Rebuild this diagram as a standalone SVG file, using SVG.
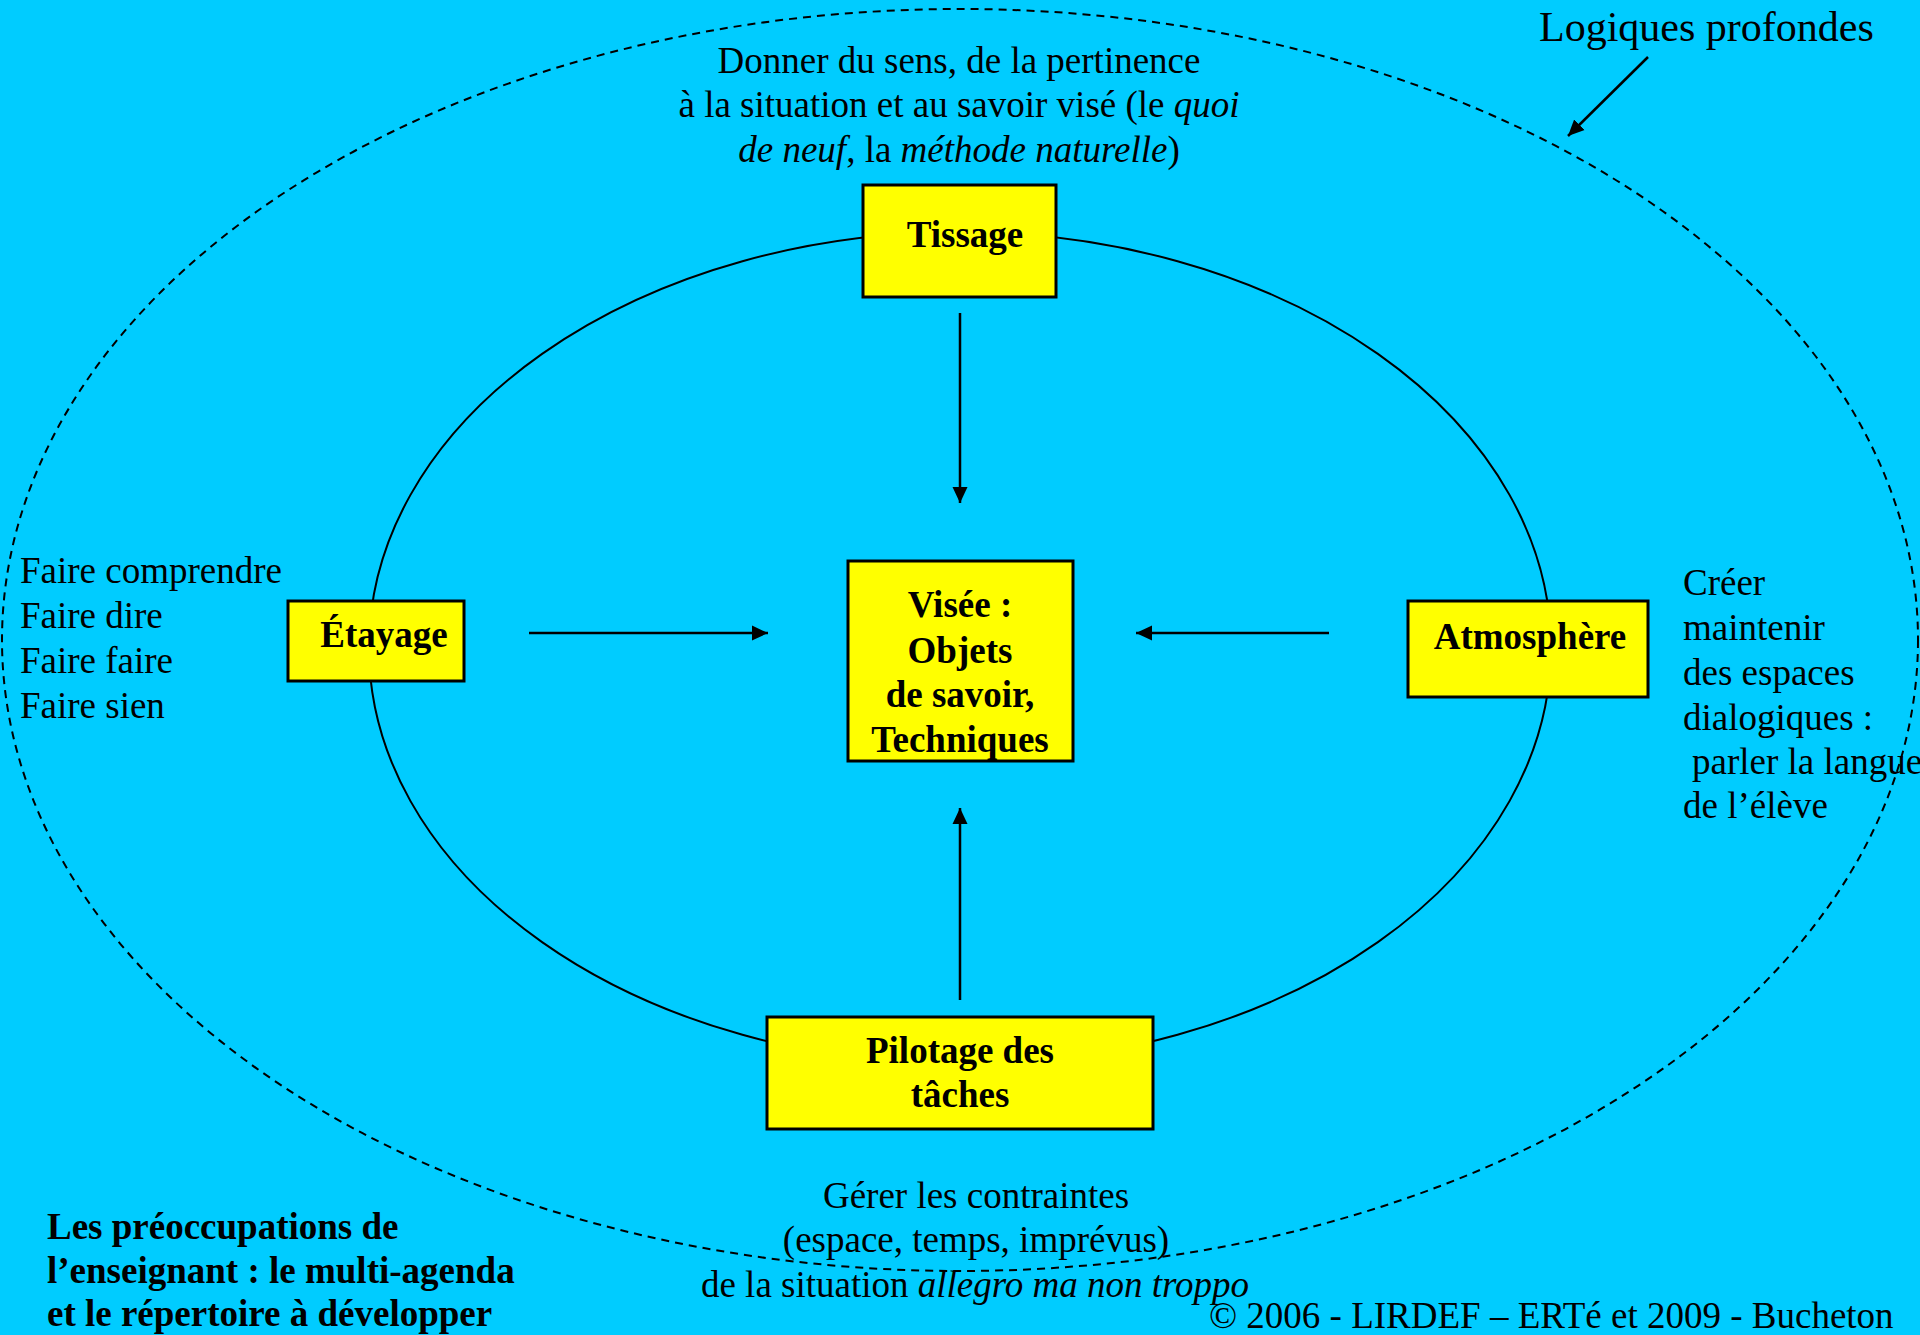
<svg xmlns="http://www.w3.org/2000/svg" width="1920" height="1335" viewBox="0 0 1920 1335">
<style>
  .t { font-family: "Liberation Serif", "Times New Roman", serif; font-size: 37px; fill: #000; }
  .b { font-weight: bold; }
  .m { text-anchor: middle; }
  .box { fill: #FFFF00; stroke: #000; stroke-width: 3; }
  .conn { stroke: #000; stroke-width: 2.5; fill: none; }
</style>
<defs>
  <marker id="arr" markerUnits="userSpaceOnUse" markerWidth="17" markerHeight="17" viewBox="0 0 17 17" refX="16" refY="8.5" orient="auto">
    <path d="M0,1 L16,8.5 L0,16 Z" fill="#000"/>
  </marker>
</defs>
<rect x="0" y="0" width="1920" height="1335" fill="#00CCFF"/>

<g id="outer-ellipse">
  <ellipse cx="960" cy="640" rx="958" ry="631" fill="none" stroke="#000" stroke-width="2" stroke-dasharray="8,6"/>
</g>
<g id="inner-ellipse">
  <ellipse cx="960" cy="648" rx="591" ry="416" fill="none" stroke="#000" stroke-width="2"/>
</g>

<g id="connectors">
  <line class="conn" x1="960" y1="313" x2="960" y2="503" marker-end="url(#arr)"/>
  <line class="conn" x1="529" y1="633" x2="768" y2="633" marker-end="url(#arr)"/>
  <line class="conn" x1="1329" y1="633" x2="1136" y2="633" marker-end="url(#arr)"/>
  <line class="conn" x1="960" y1="1000" x2="960" y2="808" marker-end="url(#arr)"/>
  <line class="conn" x1="1648" y1="57" x2="1568" y2="136" marker-end="url(#arr)"/>
</g>

<g id="logiques">
  <text class="t" x="1539" y="41" style="font-size:42px">Logiques profondes</text>
</g>

<g id="tissage-label">
  <text class="t m" x="959" y="73">Donner du sens, de la pertinence</text>
  <text class="t m" x="959" y="117">à la situation et au savoir visé (le <tspan font-style="italic">quoi</tspan></text>
  <text class="t m" x="959" y="162"><tspan font-style="italic">de neuf</tspan>, la <tspan font-style="italic">méthode naturelle</tspan>)</text>
</g>

<g id="tissage">
  <rect class="box" x="863" y="185" width="193" height="112"/>
  <text class="t b m" x="965" y="247">Tissage</text>
</g>

<g id="etayage-label">
  <text class="t" x="20" y="583">Faire comprendre</text>
  <text class="t" x="20" y="628">Faire dire</text>
  <text class="t" x="20" y="673">Faire faire</text>
  <text class="t" x="20" y="718">Faire sien</text>
</g>

<g id="etayage">
  <rect class="box" x="288" y="601" width="176" height="80"/>
  <text class="t b m" x="384" y="647">Étayage</text>
</g>

<g id="visee">
  <rect class="box" x="848" y="561" width="225" height="200"/>
  <text class="t b m" x="960" y="617">Visée :</text>
  <text class="t b m" x="960" y="663">Objets</text>
  <text class="t b m" x="960" y="707">de savoir,</text>
  <text class="t b m" x="960" y="752">Techniques</text>
</g>

<g id="atmosphere">
  <rect class="box" x="1408" y="601" width="240" height="96"/>
  <text class="t b m" x="1530" y="649">Atmosphère</text>
</g>

<g id="atmosphere-label">
  <text class="t" x="1683" y="595">Créer</text>
  <text class="t" x="1683" y="640">maintenir</text>
  <text class="t" x="1683" y="685">des espaces</text>
  <text class="t" x="1683" y="730">dialogiques :</text>
  <text class="t" x="1692" y="774">parler la langue</text>
  <text class="t" x="1683" y="818">de l’élève</text>
</g>

<g id="pilotage">
  <rect class="box" x="767" y="1017" width="386" height="112"/>
  <text class="t b m" x="960" y="1063">Pilotage des</text>
  <text class="t b m" x="960" y="1107">tâches</text>
</g>

<g id="pilotage-label">
  <text class="t m" x="976" y="1208">Gérer les contraintes</text>
  <text class="t m" x="976" y="1252">(espace, temps, imprévus)</text>
  <text class="t m" x="975" y="1297">de la situation <tspan font-style="italic">allegro ma non troppo</tspan></text>
</g>

<g id="preoccupations">
  <text class="t b" x="47" y="1239">Les préoccupations de</text>
  <text class="t b" x="47" y="1283">l’enseignant : le multi-agenda</text>
  <text class="t b" x="47" y="1326">et le répertoire à développer</text>
</g>

<g id="copyright">
  <text class="t" x="1209" y="1328">© 2006 - LIRDEF – ERTé et 2009 - Bucheton</text>
</g>
</svg>
